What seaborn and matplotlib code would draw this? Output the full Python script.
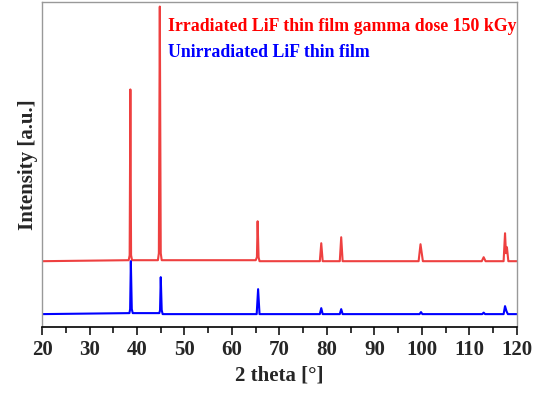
import matplotlib
matplotlib.use("Agg")
import matplotlib.pyplot as plt
from matplotlib.ticker import MultipleLocator
import seaborn as sns
import pandas as pd

# XRD patterns of LiF thin films (intensity in arbitrary units, stacked)
irr_2theta = [20, 38.25, 38.45, 38.6, 38.75, 38.95,
              44.4, 44.6, 44.8, 45.0, 45.2,
              65.0, 65.25, 65.4, 65.6, 65.8,
              78.5, 78.8, 79.1,
              82.7, 83.0, 83.3,
              99.3, 99.7, 100.2,
              112.6, 113.0, 113.4,
              117.2, 117.5, 117.7, 117.9, 118.2,
              120]
irr_intensity = [66, 67, 72, 238, 72, 67,
                 67, 74, 321, 74, 67,
                 67, 70, 106, 70, 66,
                 66, 84, 66,
                 66, 90, 66,
                 66, 83, 66,
                 66, 70, 66,
                 66, 94, 74, 80, 66,
                 66]

unirr_2theta = [20, 38.4, 38.55, 38.7, 38.9, 39.1,
                44.7, 44.85, 45.0, 45.2, 45.4,
                65.2, 65.5, 65.8,
                78.5, 78.8, 79.1,
                82.7, 83.0, 83.3,
                99.5, 99.8, 100.1,
                112.7, 113.0, 113.3,
                117.2, 117.5, 117.8, 118.1,
                120]
unirr_intensity = [13, 14, 18, 66, 18, 14,
                   14, 17, 50, 17, 13,
                   13, 38, 13,
                   13, 19, 13,
                   13, 18, 13,
                   13, 15, 13,
                   13, 14.5, 13,
                   13, 21, 16, 13,
                   13]

labels = ["Irradiated LiF thin film gamma dose 150 kGy",
          "Unirradiated LiF thin film"]
colors = ["#EE4040", "#0000FF"]
xticks = [20, 30, 40, 50, 60, 70, 80, 90, 100, 110, 120]

df = pd.concat([
    pd.DataFrame({"2theta": irr_2theta, "intensity": irr_intensity, "sample": labels[0]}),
    pd.DataFrame({"2theta": unirr_2theta, "intensity": unirr_intensity, "sample": labels[1]}),
])

sns.set_style("white")
plt.rcParams["font.family"] = ["Liberation Serif", "DejaVu Serif"]

fig = plt.figure(figsize=(5.39, 3.96), dpi=100)
ax = fig.add_axes([0.078, 0.174, 0.881, 0.822])

sns.lineplot(data=df, x="2theta", y="intensity", hue="sample",
             palette=dict(zip(labels, colors)), estimator=None,
             linewidth=1.5, legend=False, ax=ax)

ax.set_xlim(20, 120)
ax.set_ylim(0, 326)
ax.set_xticks(xticks)
ax.xaxis.set_minor_locator(MultipleLocator(5))
ax.set_yticks([])
ax.tick_params(axis="x", which="major", direction="out", length=6, width=1.1,
               color="black", labelsize=15, pad=3, bottom=True)
ax.tick_params(axis="x", which="minor", direction="out", length=4, width=1.1,
               color="black", bottom=True)
for lab in ax.get_xticklabels():
    lab.set_fontweight("bold")

for side in ["left", "top", "right"]:
    ax.spines[side].set_color("#999999")
    ax.spines[side].set_linewidth(1.0)
ax.spines["bottom"].set_color("black")
ax.spines["bottom"].set_linewidth(1.2)

ax.set_xlabel("2 theta [°]", fontsize=15, fontweight="bold", labelpad=4)
ax.set_ylabel("Intensity [a.u.]", fontsize=15, fontweight="bold", labelpad=3)

ax.text(46.5, 301, labels[0], color="#FF0000", fontsize=12.8,
        fontweight="bold", va="center", ha="left")
ax.text(46.5, 275, labels[1], color="#0000FF", fontsize=12.8,
        fontweight="bold", va="center", ha="left")

fig.savefig("out.png", dpi=100)
